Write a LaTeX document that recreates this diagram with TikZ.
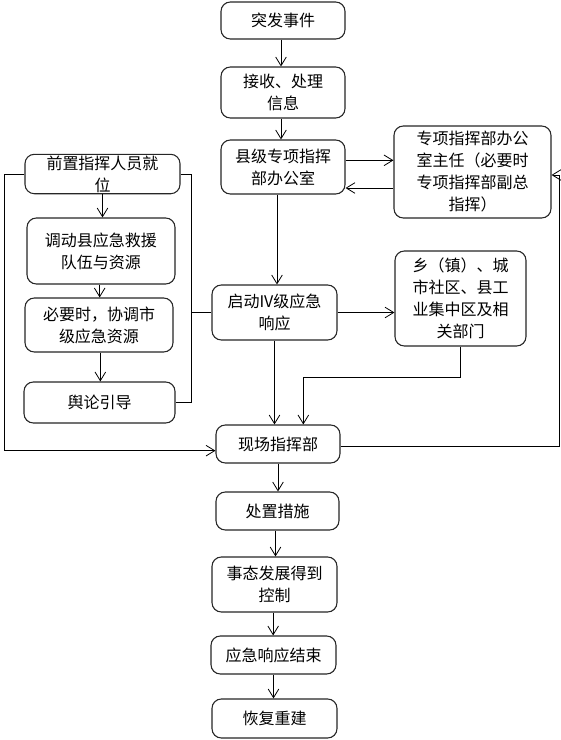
\documentclass[tikz,border=0pt]{standalone}
\usepackage{fontspec}
\setmainfont{Noto Sans CJK SC}
\usetikzlibrary{arrows.meta}
\tikzset{
  box/.style={rectangle,draw=black!85,line width=0.8pt,rounded corners=7pt,fill=white,
    inner sep=1pt,align=center,font=\fontsize{12}{16.5}\selectfont},
  ln/.style={line width=0.6pt,black},
  dep/.style={-{Straight Barb[length=2.3mm,width=2.8mm]},line width=0.6pt,black},
}
\begin{document}
\begin{tikzpicture}[x=0.75pt,y=-0.75pt]
  \useasboundingbox (0,0) rectangle (561,740);
  % ---- main column ----
  \node[box,minimum width=93pt,minimum height=27.75pt] (evt) at (283,20.5) {突发事件};
  \node[box,minimum width=93pt,minimum height=38.25pt] (recv) at (283,92.5) {接收、处理\\信息};
  \node[box,minimum width=93pt,minimum height=40.5pt] (office) at (283,167) {县级专项指挥\\部办公室};
  \node[box,minimum width=93.75pt,minimum height=41.25pt] (start) at (274.5,312.5) {启动IV级应急\\响应};
  \node[box,minimum width=93pt,minimum height=28.5pt] (site) at (278,444) {现场指挥部};
  \node[box,minimum width=92.25pt,minimum height=28.5pt] (measure) at (277.5,511) {处置措施};
  \node[box,minimum width=93.75pt,minimum height=41.25pt] (ctrl) at (274.5,584.5) {事态发展得到\\控制};
  \node[box,minimum width=93.75pt,minimum height=28.5pt] (close) at (273.5,655) {应急响应结束};
  \node[box,minimum width=93.75pt,minimum height=29.25pt] (rebuild) at (274.5,718.5) {恢复重建};
  % ---- right: director and local units ----
  \node[box,minimum width=117.75pt,minimum height=69pt] (dir) at (472.5,172)
    {专项指挥部办公\\室主任（必要时\\专项指挥部副总\\指挥）};
  \node[box,minimum width=98.25pt,minimum height=71.25pt] (town) at (460.5,298.5)
    {乡（镇）、城\\市社区、县工\\业集中区及相\\关部门};
  % ---- left: forward command group ----
  \node[box,minimum width=116.25pt,minimum height=28.5pt] (front) at (102.5,174) {前置指挥人员就\\位};
  \node[box,minimum width=111pt,minimum height=49.5pt] (team) at (101,251) {调动县应急救援\\队伍与资源};
  \node[box,minimum width=111pt,minimum height=40.5pt] (city) at (99,325) {必要时，协调市\\级应急资源};
  \node[box,minimum width=113.25pt,minimum height=30.75pt] (media) at (99.5,402.5) {舆论引导};
  \coordinate (lt) at (4,0);
  \coordinate (br) at (191,0);
  \coordinate (rt) at (559,0);
  % ---- connectors ----
  \draw[dep] ([xshift=-1.5pt]evt.south) -- ([xshift=-1.5pt]evt.south |- recv.north);
  \draw[dep] ([xshift=-1.5pt]recv.south) -- ([xshift=-1.5pt]recv.south |- office.north);
  \draw[dep] ([xshift=-4.5pt]office.south) -- ([xshift=-4.5pt]office.south |- start.north);
  \draw[dep] ([yshift=5pt]office.east) -- ([yshift=5pt]office.east -| dir.west);
  \draw[dep] ([yshift=-12pt]dir.west) -- ([yshift=-12pt]dir.west -| office.east);
  \draw[dep] (start.east) -- (start.east -| town.west);
  \draw[dep] (start.south) -- (start.south |- site.north);
  \draw[dep] (town.south) -- ++(0,31) -| ([xshift=19pt]site.north);
  \draw[dep] (site.south) -- (site.south |- measure.north);
  \draw[dep] ([xshift=-1.5pt]measure.south) -- ([xshift=-1.5pt]measure.south |- ctrl.north);
  \draw[dep] ([xshift=-1pt]ctrl.south) -- ([xshift=-1pt]ctrl.south |- close.north);
  \draw[dep] (close.south) -- (close.south |- rebuild.north);
  \draw[dep] (front.south) -- (front.south |- team.north);
  \draw[dep] ([xshift=-1pt]team.south) -- ([xshift=-1pt]team.south |- city.north);
  \draw[dep] ([xshift=1pt]city.south) -- ([xshift=1pt]city.south |- media.north);
  % the bracket joining the left group to the start box
  \draw[ln] (front.east) -| (br |- media.east) -- (media.east);
  \draw[ln] (br |- start.west) -- (start.west);
  % long returns on both sides
  \draw[dep] (front.west) -| ([yshift=-5pt]lt |- site.west) -- ([yshift=-5pt]site.west);
  \draw[dep] ([yshift=-2pt]site.east) -| ([yshift=-2.25pt]rt |- dir.east) -- ([yshift=-2.25pt]dir.east);
\end{tikzpicture}
\end{document}
